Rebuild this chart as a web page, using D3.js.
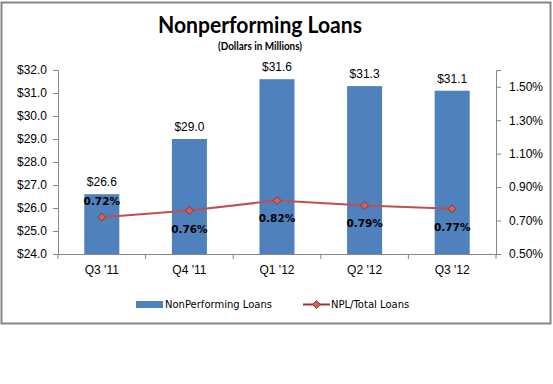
<!DOCTYPE html>
<html><head><meta charset="utf-8">
<script src="https://cdn.jsdelivr.net/npm/d3@7"></script>
<style>body{margin:0;background:#fff}svg{display:block}</style>
</head><body>
<script>
const categories = ["Q3 '11", "Q4 '11", "Q1 '12", "Q2 '12", "Q3 '12"];
const npl = [26.6, 29.0, 31.6, 31.3, 31.1];
const ratio = [0.72, 0.76, 0.82, 0.79, 0.77];
const leftTicks = [24, 25, 26, 27, 28, 29, 30, 31, 32];
const rightTicks = [0.5, 0.7, 0.9, 1.1, 1.3, 1.5];

const W = 553, H = 384;
const svg = d3.select("body").append("svg").attr("width", W).attr("height", H);
svg.append("rect").attr("x", 1.5).attr("y", 2.5).attr("width", 549).attr("height", 321)
  .attr("fill", "#fff").attr("stroke", "#868686").attr("stroke-width", 2);

const L = 58, R = 496, T = 70, B = 254;
const x = d3.scaleBand().domain(categories).range([L, R]).paddingInner(0.6).paddingOuter(0.3);
const y = d3.scaleLinear().domain([24, 32]).range([B, T]);
const y2 = d3.scaleLinear().domain([0.5, 1.6]).range([B, T]);
const axisColor = "#868686";
const tickFont = "'Liberation Sans', Arial, sans-serif";

// title
svg.append("text").attr("x", 260).attr("y", 33).attr("text-anchor", "middle")
  .attr("font-family", "Lato, 'Liberation Sans', sans-serif").attr("font-weight", "bold")
  .attr("font-size", 23).attr("textLength", 204).attr("lengthAdjust", "spacingAndGlyphs")
  .text("Nonperforming Loans");
svg.append("text").attr("x", 260).attr("y", 50).attr("text-anchor", "middle")
  .attr("font-family", "Lato, 'Liberation Sans', sans-serif").attr("font-weight", "bold")
  .attr("font-size", 10.5).attr("textLength", 84).attr("lengthAdjust", "spacingAndGlyphs")
  .text("(Dollars in Millions)");

// bars
svg.append("g").selectAll("rect").data(npl).join("rect")
  .attr("x", (d, i) => x(categories[i])).attr("width", x.bandwidth())
  .attr("y", d => y(d)).attr("height", d => B - y(d)).attr("fill", "#4F81BD");

// axes
const gl = svg.append("g").attr("transform", `translate(${L},0)`)
  .call(d3.axisLeft(y).tickValues(leftTicks).tickSize(5).tickPadding(6).tickFormat(d => "$" + d3.format(".1f")(d)));
const gr = svg.append("g").attr("transform", `translate(${R},0)`)
  .call(d3.axisRight(y2).tickValues(rightTicks).tickSize(5).tickPadding(8).tickFormat(d => d3.format(".2f")(d) + "%"));
const gx = svg.append("g").attr("transform", `translate(0,${B})`)
  .call(d3.axisBottom(x).tickSize(0).tickPadding(11));
[gl, gr, gx].forEach(g => {
  g.select(".domain").attr("stroke", axisColor);
  g.selectAll(".tick line").attr("stroke", axisColor);
  g.selectAll("text").attr("font-family", tickFont).attr("font-size", 12).attr("fill", "#000");
});
gx.select(".domain").attr("d", `M${L},0.5H${R}`);
// category boundary ticks
const bounds = d3.range(categories.length + 1).map(i => L + i * x.step());
svg.append("g").selectAll("line").data(bounds).join("line")
  .attr("x1", d => d).attr("x2", d => d).attr("y1", B).attr("y2", B + 5).attr("stroke", axisColor);

// bar labels
svg.append("g").selectAll("text").data(npl).join("text")
  .attr("x", (d, i) => x(categories[i]) + x.bandwidth() / 2).attr("y", d => y(d) - 8)
  .attr("text-anchor", "middle").attr("font-family", tickFont).attr("font-size", 12)
  .text(d => "$" + d3.format(".1f")(d));

// line
const cx = i => x(categories[i]) + x.bandwidth() / 2;
svg.append("path").datum(ratio)
  .attr("d", d3.line().x((d, i) => cx(i)).y(d => y2(d)))
  .attr("fill", "none").attr("stroke", "#C0504D").attr("stroke-width", 2);
const diamond = d3.symbol().type(d3.symbolDiamond2).size(40);
svg.append("g").selectAll("path").data(ratio).join("path")
  .attr("d", diamond).attr("transform", (d, i) => `translate(${cx(i)},${y2(d)})`)
  .attr("fill", "#D2605C").attr("stroke", "#8C3836").attr("stroke-width", 1);
svg.append("g").selectAll("text").data(ratio).join("text")
  .attr("x", (d, i) => cx(i)).attr("y", (d, i) => i === 0 ? y2(d) - 12 : y2(d) + 22)
  .attr("text-anchor", "middle").attr("font-family", "'DejaVu Sans', Verdana, sans-serif")
  .attr("font-weight", "bold").attr("font-size", 10.5).attr("fill", "#000")
  .text(d => d3.format(".2f")(d) + "%");

// legend
const lg = svg.append("g");
lg.append("rect").attr("x", 136).attr("y", 301).attr("width", 27).attr("height", 7).attr("fill", "#4F81BD");
lg.append("text").attr("x", 165).attr("y", 308).attr("font-family", "'DejaVu Sans', Verdana, sans-serif")
  .attr("font-size", 10).text("NonPerforming Loans");
lg.append("line").attr("x1", 303).attr("x2", 330).attr("y1", 304.5).attr("y2", 304.5)
  .attr("stroke", "#953735").attr("stroke-width", 2);
lg.append("path").attr("d", diamond).attr("transform", "translate(316.5,304.5)")
  .attr("fill", "#D2605C").attr("stroke", "#8C3836");
lg.append("text").attr("x", 331).attr("y", 308).attr("font-family", "'DejaVu Sans', Verdana, sans-serif")
  .attr("font-size", 10).text("NPL/Total Loans");
</script>
</body></html>
